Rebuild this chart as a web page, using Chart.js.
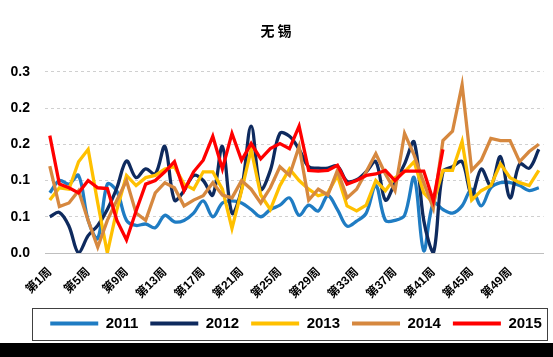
<!DOCTYPE html>
<html><head><meta charset="utf-8">
<script src="https://cdn.jsdelivr.net/npm/chart.js@4"></script>
<style>
html,body{margin:0;padding:0;background:#000;overflow:hidden;}
#wrap{position:relative;width:553px;height:343px;background:#fff;}
</style></head><body>
<div id="wrap"><canvas id="c"></canvas></div>
<script>
const weeks = ["第1周","第2周","第3周","第4周","第5周","第6周","第7周","第8周","第9周","第10周",
"第11周","第12周","第13周","第14周","第15周","第16周","第17周","第18周","第19周","第20周",
"第21周","第22周","第23周","第24周","第25周","第26周","第27周","第28周","第29周","第30周",
"第31周","第32周","第33周","第34周","第35周","第36周","第37周","第38周","第39周","第40周",
"第41周","第42周","第43周","第44周","第45周","第46周","第47周","第48周","第49周","第50周",
"第51周","第52周"];
const seriesNames = ["2011","2012","2013","2014","2015"];
const s2011 = [0.083,0.100,0.095,0.107,0.045,0.020,0.095,0.085,0.045,0.038,0.040,0.035,0.052,0.043,0.045,0.055,0.072,0.050,0.069,0.072,0.069,0.060,0.050,0.060,0.066,0.076,0.052,0.066,0.058,0.079,0.060,0.037,0.044,0.055,0.093,0.045,0.045,0.052,0.104,0.003,0.069,0.060,0.055,0.065,0.088,0.065,0.090,0.097,0.097,0.093,0.086,0.090];
const s2012 = [0.050,0.056,0.037,0.000,0.024,0.038,0.060,0.090,0.127,0.104,0.116,0.109,0.147,0.073,0.086,0.107,0.100,0.080,0.147,0.055,0.088,0.175,0.088,0.114,0.165,0.161,0.143,0.119,0.117,0.117,0.120,0.099,0.101,0.112,0.126,0.073,0.097,0.123,0.153,0.045,0.000,0.112,0.119,0.126,0.080,0.116,0.093,0.133,0.076,0.123,0.117,0.143];
const s2013 = [0.073,0.090,0.088,0.126,0.143,0.069,0.000,0.060,0.107,0.093,0.104,0.107,0.116,0.119,0.095,0.088,0.112,0.112,0.088,0.034,0.086,0.143,0.080,0.060,0.093,0.116,0.100,0.088,0.079,0.083,0.107,0.065,0.058,0.066,0.100,0.086,0.104,0.112,0.126,0.083,0.069,0.114,0.114,0.154,0.073,0.086,0.093,0.123,0.104,0.097,0.093,0.114];
const s2014 = [0.120,0.064,0.069,0.086,0.045,0.008,0.045,0.073,0.100,0.055,0.045,0.083,0.097,0.090,0.065,0.073,0.079,0.097,0.080,0.076,0.100,0.088,0.069,0.090,0.119,0.107,0.147,0.073,0.088,0.080,0.114,0.076,0.088,0.112,0.137,0.109,0.086,0.165,0.135,0.097,0.062,0.155,0.168,0.232,0.114,0.128,0.158,0.155,0.155,0.126,0.140,0.150];
const s2015 = [0.162,0.095,0.090,0.083,0.100,0.090,0.089,0.045,0.018,0.058,0.095,0.100,0.112,0.126,0.086,0.112,0.128,0.161,0.116,0.165,0.128,0.151,0.130,0.144,0.151,0.144,0.175,0.114,0.113,0.114,0.121,0.095,0.100,0.107,0.109,0.114,0.100,0.113,0.113,0.113,0.072,0.143];
const yMin = 0, yMax = 0.25, yStep = 0.05;

const FONT = "'Liberation Sans', Arial, 'Noto Sans CJK SC', sans-serif";
const colors = ['#1F7CC3','#0E2A5E','#FFC000','#D6883F','#FF0000'];
const tensions = [0.35,0.35,0,0,0];
const allSeries = [s2011,s2012,s2013,s2014,s2015];

const datasets = allSeries.map((d,i)=>({
  label: seriesNames[i],
  data: d,
  borderColor: colors[i],
  backgroundColor: colors[i],
  borderWidth: 3.3,
  pointRadius: 0,
  pointHoverRadius: 0,
  tension: tensions[i],
  fill: false,
  order: 5 - i
}));

const legendBorder = {
  id: 'legendBorder',
  afterLayout(chart){
    const L = chart.legend;
    if (L) { L.left += 20; L.right += 20; }
  },
  afterDraw(chart){
    const ctx = chart.ctx;
    ctx.save();
    ctx.strokeStyle = '#404040';
    ctx.lineWidth = 1;
    ctx.strokeRect(32.5, 308.5, 515, 32);
    ctx.restore();
  }
};

new Chart(document.getElementById('c'), {
  type: 'line',
  data: { labels: weeks, datasets },
  plugins: [legendBorder],
  options: {
    responsive: true,
    maintainAspectRatio: false,
    animation: false,
    layout: { padding: { left: 0, right: 1, top: 0, bottom: 2 } },
    plugins: {
      title: {
        display: true,
        text: '无 锡',
        color: '#000',
        font: { family: "'Noto Sans CJK SC', sans-serif", size: 14, weight: 'bold' },
        padding: { top: 22, bottom: 33 }
      },
      legend: {
        display: true,
        position: 'bottom',
        labels: {
          boxWidth: 48,
          boxHeight: 4,
          padding: 12,
          color: '#000',
          font: { family: FONT, size: 15, weight: 'bold' },
          generateLabels(chart){
            const items = Chart.defaults.plugins.legend.labels.generateLabels(chart);
            items.forEach(it => { it.lineWidth = 0; it.fillStyle = it.strokeStyle; });
            return items;
          },
          sort: (a,b) => a.datasetIndex - b.datasetIndex
        }
      },
      tooltip: { enabled: false }
    },
    scales: {
      x: {
        offset: true,
        grid: { display: false },
        border: { display: true, color: '#BFBFBF', width: 1 },
        ticks: {
          autoSkip: false,
          maxRotation: 45,
          minRotation: 45,
          padding: 4,
          color: '#000',
          font: { family: FONT, size: 12, weight: 'bold' },
          callback: (v, i) => (i % 4 === 0 ? weeks[i] : '')
        },
        afterFit(scale){ scale.height = 51; }
      },
      y: {
        min: yMin, max: yMax,
        border: { display: false, dash: [3,3] },
        grid: { color: '#D0D0D0', lineWidth: 1, drawTicks: false },
        ticks: {
          stepSize: yStep,
          padding: 15,
          color: '#000',
          font: { family: FONT, size: 14, weight: 'bold' },
          callback: v => (Math.round(v * 10) / 10).toFixed(1)
        },
        afterFit(scale){ scale.width = 45; }
      }
    }
  }
});
</script>
</body></html>
